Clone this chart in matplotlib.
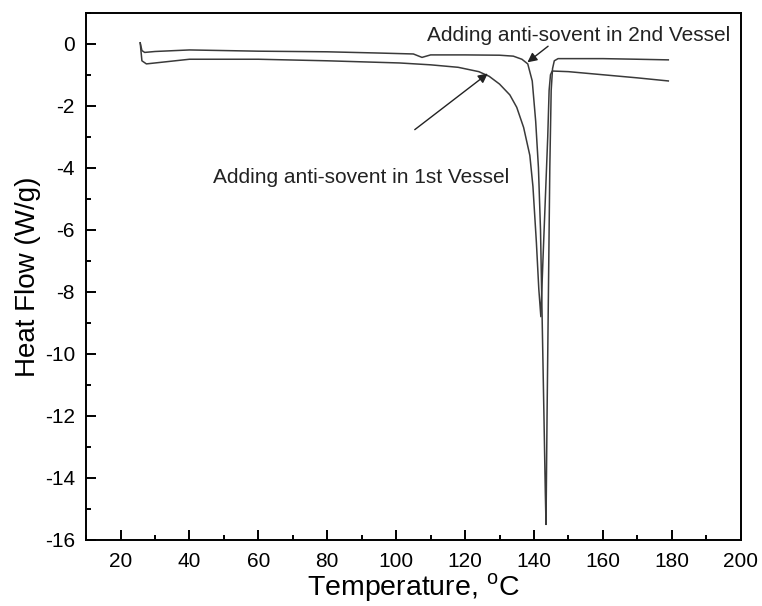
import matplotlib

matplotlib.use("Agg")
import matplotlib.pyplot as plt
from matplotlib.ticker import MultipleLocator

plt.rcParams["font.family"] = ["Liberation Sans", "DejaVu Sans"]
plt.rcParams["axes.unicode_minus"] = False
plt.rcParams["mathtext.fontset"] = "custom"
plt.rcParams["mathtext.rm"] = "Liberation Sans"

# upper trace (2nd vessel) - sharp peak
t_upper = [25.7, 26.2, 27.0, 30, 40, 60, 80, 95, 105, 107.5, 110, 120, 130, 134, 136.5,
           138.2, 139.5, 140.5, 141.3, 141.9, 142.4, 142.9, 143.3, 143.5,
           143.8, 144.2, 144.6, 145.0, 145.4, 145.9, 147, 160, 170, 179]
hf_upper = [0.03, -0.22, -0.28, -0.25, -0.2, -0.24, -0.26, -0.3, -0.33, -0.44, -0.36, -0.36, -0.37, -0.4, -0.5,
            -0.65, -1.2, -2.5, -4.0, -6.0, -9.0, -12.0, -14.5, -15.5,
            -12.0, -8.0, -4.0, -1.5, -0.8, -0.55, -0.48, -0.48, -0.5, -0.52]

# lower trace (1st vessel) - broad peak
t_lower = [25.7, 26.2, 27.5, 30, 40, 60, 80, 95, 101, 110, 118, 124, 127, 130, 133, 135, 137,
           138.8, 139.7, 140.7, 141.4, 142.0, 142.6, 143.3, 144.0, 144.4, 144.8, 145.3, 150, 160, 170, 179]
hf_lower = [0.03, -0.55, -0.65, -0.62, -0.5, -0.5, -0.55, -0.6, -0.62, -0.68, -0.76, -0.9, -1.05, -1.3, -1.65, -2.05, -2.7,
            -3.6, -4.6, -6.4, -7.9, -8.8, -7.0, -5.0, -3.0, -1.5, -1.0, -0.88, -0.9, -1.0, -1.1, -1.2]

note_2nd = "Adding anti-sovent in 2nd Vessel"
note_1st = "Adding anti-sovent in 1st Vessel"

fig = plt.figure(figsize=(7.62, 6.06), dpi=100)
ax = fig.add_axes([0.113, 0.109, 0.859, 0.870])

line_kw = dict(color="#3a3a3a", lw=1.1)
ax.plot(t_upper, hf_upper, **line_kw)
ax.plot(t_lower, hf_lower, **line_kw)

arrow = dict(arrowstyle="-|>", color="#222222", lw=1.0, mutation_scale=14, shrinkA=0, shrinkB=0)
ax.annotate("", xy=(138.1, -0.6), xytext=(144.1, -0.08), arrowprops=arrow)
ax.text(108.9, 0.28, note_2nd, fontsize=15, ha="left", va="center", color="#222222")
ax.annotate("", xy=(126.6, -0.96), xytext=(105.4, -2.77), arrowprops=arrow)
ax.text(46.8, -4.3, note_1st, fontsize=15, ha="left", va="center", color="#222222")

ax.set_xlim(10, 200)
ax.set_ylim(-16, 1)
ax.xaxis.set_major_locator(MultipleLocator(20))
ax.xaxis.set_minor_locator(MultipleLocator(10))
ax.yaxis.set_major_locator(MultipleLocator(2))
ax.yaxis.set_minor_locator(MultipleLocator(1))
ax.tick_params(which="both", direction="in", top=False, right=False, labelsize=15, width=1.4, pad=8)
ax.tick_params(axis="x", which="both", pad=9)
ax.tick_params(which="major", length=7)
ax.tick_params(which="minor", length=3.5)
for s in ax.spines.values():
    s.set_linewidth(1.4)

ax.set_xlabel(r"Temperature, $^\mathregular{o}$C", fontsize=20.5, labelpad=0)
ax.set_ylabel("Heat Flow (W/g)", fontsize=20, labelpad=3)

fig.savefig("out.png", dpi=100)
